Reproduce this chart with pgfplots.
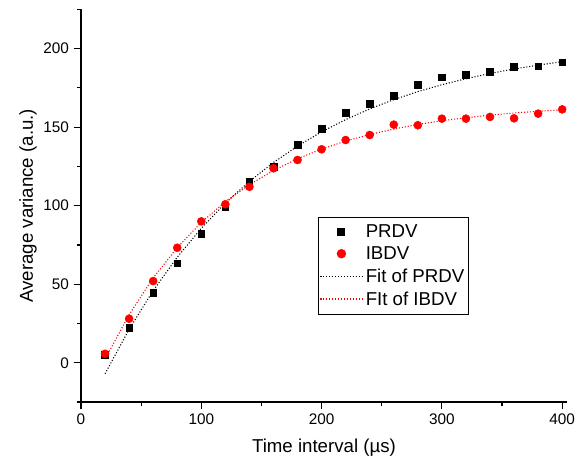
\documentclass[border=0pt]{standalone}
\usepackage{pgfplots}
\pgfplotsset{compat=1.18}
\usepackage{fontspec}
\setmainfont{Liberation Sans}

\begin{document}
\begin{tikzpicture}
\useasboundingbox (-60.75pt,-45pt) rectangle (371.25pt,301.5pt);
\begin{axis}[
  at={(0pt,0pt)}, anchor=south west,
  scale only axis, width=364.5pt, height=294.5pt,
  xmin=0, xmax=404, ymin=-25, ymax=225,
  axis x line*=bottom, axis y line*=left,
  axis line style={line width=0.9pt, -},
  every tick/.style={line width=0.9pt, black},
  tick align=outside,
  major tick length=5.5pt, minor tick length=3pt,
  xtick={0,100,...,400}, minor xtick={50,150,250,350},
  ytick={0,50,...,200}, minor ytick={-25,25,75,125,175,225},
  tick label style={font=\fontsize{11.5}{13}\selectfont},
  /pgf/number format/assume math mode=true,
  label style={font=\fontsize{14}{16}\selectfont},
  xlabel={Time interval (µs)},
  ylabel={Average variance (a.u.)},
  xlabel style={at={(axis description cs:0.5,-0.117)}, anchor=center},
  ylabel style={at={(axis description cs:-0.109,0.5)}, anchor=center},
  legend image code/.code={\draw[mark repeat=2,mark phase=2,#1,line width=1pt] plot coordinates {(0pt,0.4pt) (15.75pt,0.4pt) (31.5pt,0.4pt)};},
  legend style={at={(rel axis cs:0.488,0.471)}, anchor=north west,
    font=\fontsize{14}{16}\selectfont,
    inner xsep=1pt, inner ysep=3.5pt, row sep=1.5pt},
  legend cell align=left,
]
\addplot[only marks, mark=square*, mark size=2.5pt, black] coordinates {
  (20,4.9) (40,22.1) (60,44.6) (80,63.3) (100,82.0) (120,99.5) (140,115.5)
  (160,124.8) (180,138.6) (200,149.0) (220,159.0) (240,165.0) (260,169.8)
  (280,176.8) (300,181.7) (320,183.4) (340,185.4) (360,188.5) (380,188.7) (400,191.3)};
\addplot[only marks, mark=*, mark size=3pt, red] coordinates {
  (20,5.7) (40,28.0) (60,52.0) (80,73.2) (100,90.0) (120,100.9) (140,112.0)
  (160,123.8) (180,129.1) (200,135.9) (220,141.8) (240,145.0) (260,151.6)
  (280,151.2) (300,155.4) (320,155.4) (340,156.5) (360,155.6) (380,158.6) (400,161.3)};
\addplot[draw=black, line width=0.8pt, dash pattern=on 0.8pt off 1.4pt] coordinates {
  (20,-7.0) (40,21.3) (60,45.9) (80,67.2) (100,85.6) (120,101.6) (140,115.5)
  (160,127.5) (180,137.9) (200,147.0) (220,154.8) (240,161.6) (260,167.5)
  (280,172.6) (300,177.0) (320,180.8) (340,184.2) (360,187.0) (380,189.5) (400,191.7)};
\addplot[draw=red, line width=0.8pt, dash pattern=on 0.8pt off 1.4pt] coordinates {
  (20,2.3) (40,30.6) (60,54.0) (80,73.3) (100,89.3) (120,102.5) (140,113.4)
  (160,122.4) (180,129.9) (200,136.0) (220,141.1) (240,145.3) (260,148.8)
  (280,151.7) (300,154.1) (320,156.0) (340,157.7) (360,159.0) (380,160.1) (400,161.0)};
\legend{PRDV, IBDV, Fit of PRDV, FIt of IBDV}
\end{axis}
\end{tikzpicture}
\end{document}
